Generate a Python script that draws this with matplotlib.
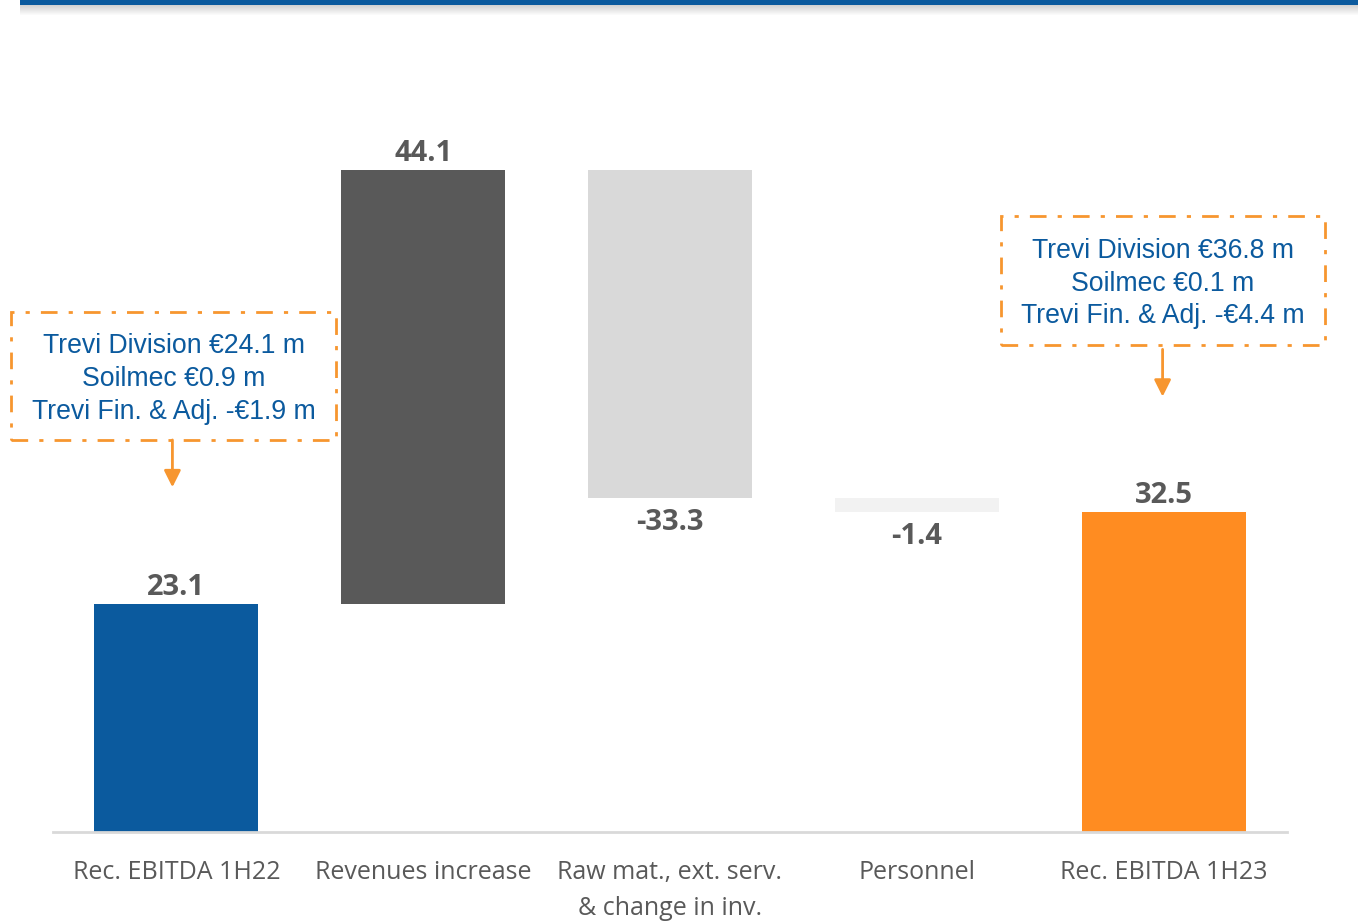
import numpy as np
import matplotlib
matplotlib.use("Agg")
import matplotlib.pyplot as plt
from matplotlib.patches import Rectangle

# -------------------------------------------------
# data
# -------------------------------------------------
categories = [
    "Rec. EBITDA 1H22",
    "Revenues increase",
    "Raw mat., ext. serv.\n& change in inv.",
    "Personnel",
    "Rec. EBITDA 1H23",
]
values = [23.1, 44.1, -33.3, -1.4, 32.5]
is_total = [True, False, False, False, True]
value_labels = ["23.1", "44.1", "-33.3", "-1.4", "32.5"]

note_1h22 = ["Trevi Division €24.1 m", "Soilmec €0.9 m", "Trevi Fin. & Adj. -€1.9 m"]
note_1h23 = ["Trevi Division €36.8 m", "Soilmec €0.1 m", "Trevi Fin. & Adj. -€4.4 m"]

colors = ["#0B5A9E", "#595959", "#D9D9D9", "#F2F2F2", "#FF8C21"]
ORANGE = "#F7962F"
BLUE_TXT = "#0B5A9E"
GREY_TXT = "#595959"

# -------------------------------------------------
# waterfall bottoms
# -------------------------------------------------
bottoms = []
heights = []
run = 0.0
for v, tot in zip(values, is_total):
    if tot:
        bottoms.append(0.0)
        heights.append(v)
        run = v
    else:
        if v >= 0:
            bottoms.append(run)
        else:
            bottoms.append(run + v)
        heights.append(abs(v))
        run = run + v

fig = plt.figure(figsize=(13.58, 9.23), dpi=100)
ax = fig.add_axes([0.039, 0.0986, 0.9087, 0.747])

x = np.arange(len(categories))
ax.bar(x, heights, bottom=bottoms, width=0.664, color=colors, zorder=2)

ax.set_xlim(-0.5, 4.5)
ax.set_ylim(0, 70)

# value labels
for i, (v, b, h) in enumerate(zip(values, bottoms, heights)):
    if v >= 0:
        ax.text(x[i], b + h + 0.2, value_labels[i], ha="center", va="bottom",
                fontsize=21, fontweight="bold", color=GREY_TXT,
                family="Open Sans")
    else:
        ax.text(x[i], b - 1.0, value_labels[i], ha="center", va="top",
                fontsize=21, fontweight="bold", color=GREY_TXT,
                family="Open Sans")

# axes styling
for s in ["top", "right", "left"]:
    ax.spines[s].set_visible(False)
ax.spines["bottom"].set_color("#D9D9D9")
ax.spines["bottom"].set_linewidth(2)
ax.set_yticks([])
ax.set_xticks(x)
ax.set_xticklabels(categories, fontsize=18, color=GREY_TXT,
                   family="Open Sans", linespacing=1.55)
ax.tick_params(axis="x", length=0, pad=20.5)

# -------------------------------------------------
# annotation boxes
# -------------------------------------------------
def note_box(x0, x1, y0, y1, lines, ax_from, ay_from, ay_to):
    rect = Rectangle((x0, y0), x1 - x0, y1 - y0, fill=False,
                     edgecolor=ORANGE, linewidth=2, linestyle=(0, (6, 4, 1.5, 4)),
                     clip_on=False, zorder=3)
    ax.add_patch(rect)
    ax.text((x0 + x1) / 2, (y0 + y1) / 2 - 0.3, "\n".join(lines), ha="center",
            va="center", fontsize=19.2, color=BLUE_TXT,
            family="Liberation Sans", linespacing=1.33, clip_on=False)
    ax.annotate("", xy=(ax_from, ay_to), xytext=(ax_from, ay_from),
                arrowprops=dict(arrowstyle="-|>,head_width=0.25,head_length=0.5",
                                mutation_scale=20,
                                color=ORANGE, lw=2, shrinkA=0, shrinkB=0),
                annotation_clip=False)


note_box(-0.668, 0.648, 39.8, 52.8, note_1h22, -0.016, 39.8, 35.0)
note_box(3.34, 4.656, 49.4, 62.5, note_1h23, 3.996, 49.0, 44.2)

# -------------------------------------------------
# top banner
# -------------------------------------------------
W, H = 1358.0, 923.0
for k in range(10):
    fig.patches.append(Rectangle((20 / W, 1 - (6 + k) / H), 1 - 20 / W, 1 / H,
                                 transform=fig.transFigure, color="#808080",
                                 alpha=0.35 * (1 - k / 10), linewidth=0))
fig.patches.append(Rectangle((20 / W, 1 - 5 / H), 1 - 20 / W, 5 / H,
                             transform=fig.transFigure, color="#0B5A9E",
                             linewidth=0))

fig.savefig("out.png", dpi=100)
